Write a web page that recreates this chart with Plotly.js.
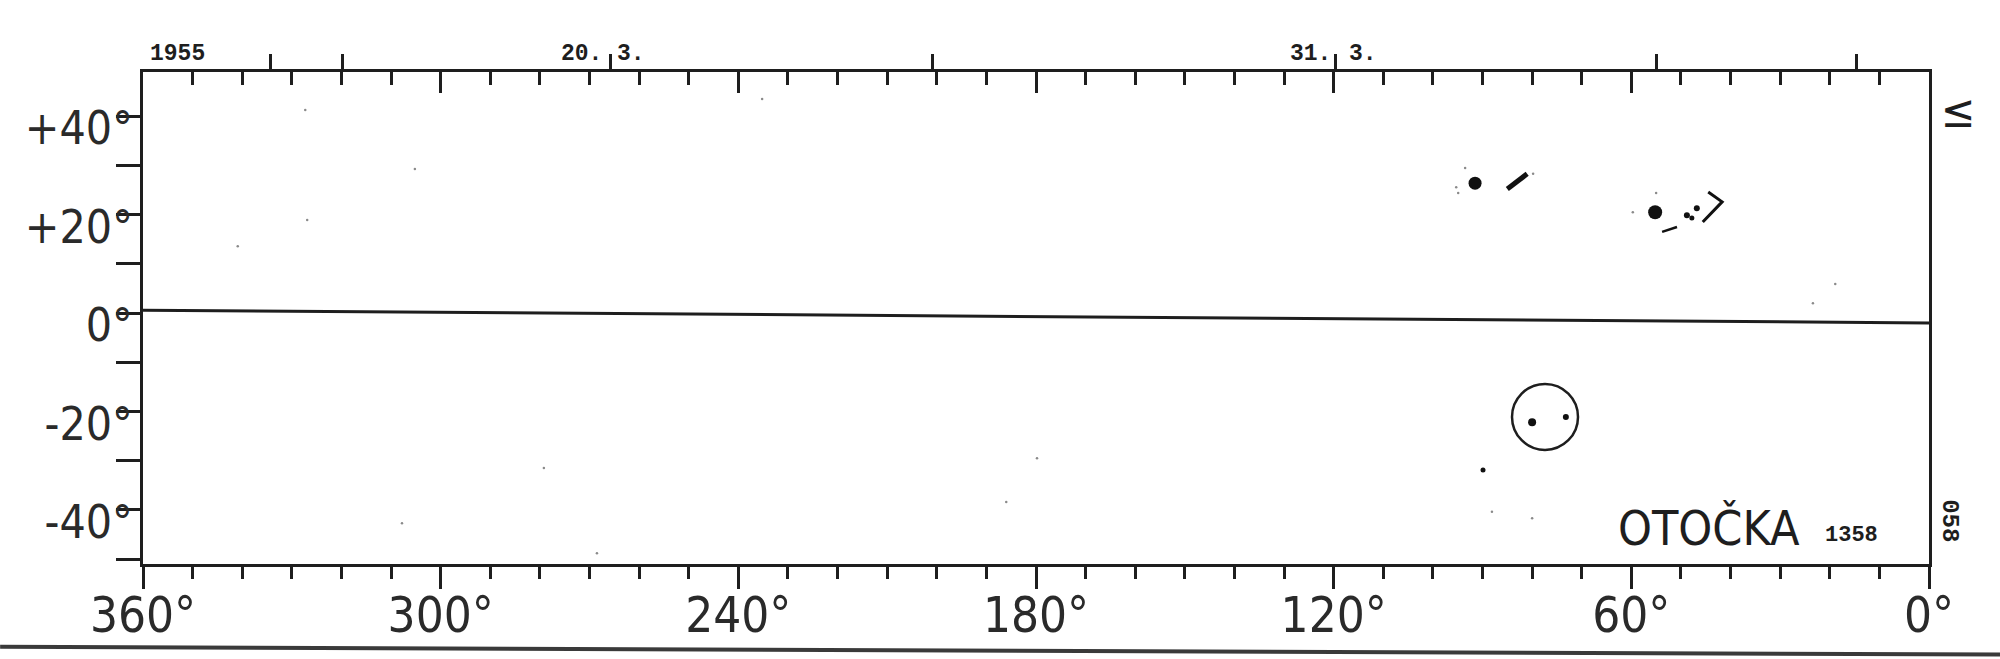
<!DOCTYPE html>
<html>
<head>
<meta charset="utf-8">
<script src="https://cdn.plot.ly/plotly-3.0.1.min.js"></script>
<style>html,body{margin:0;padding:0;background:#fff;}#chart{width:2000px;height:659px;}</style>
</head>
<body>
<div id="chart"></div>
<script>
// ---- data (Carrington longitude, heliographic latitude) ----
const xTickVals = [360, 300, 240, 180, 120, 60, 0];
const xTickText = ['360°', '300°', '240°', '180°', '120°', '60°', '0°'];
const yTickVals = [40, 20, 0, -20, -40];
const yTickText = ['+40°', '+20°', '0°', '-20°', '-40°'];

// date marks on the upper edge
const dateTickLon = [334.4, 319.7, 265.7, 200.8, 119.7, 55.0, 14.7];
const dateLabels = ['1955', '20.', '3.', '31.', '3.'];
const dateLabelLon = [353.0, 271.7, 261.6, 124.6, 114.0];

// drawn equator (slightly skewed on the scan)
const equatorLon = [360, 0];
const equatorLat = [0.6, -2.0];

// umbrae (filled spots)
const spotLon = [91.5, 55.2, 48.8, 46.8, 47.8, 80.0, 73.2, 89.9];
const spotLat = [26.4, 20.5, 19.9, 21.3, 19.3, -22.2, -21.1, -31.9];
const spotSize = [13, 14, 6, 6, 5, 8, 6, 5];

// elongated marks
const streak1Lon = [85.0, 83.3, 81.0];
const streak1Lat = [25.2, 26.6, 28.3];
const streak2Lon = [53.8, 50.8];
const streak2Lat = [16.5, 17.5];
const bracketLon = [44.5, 41.7, 45.6];
const bracketLat = [24.6, 22.6, 18.5];

// encircled region
const ringLon = [77.4];
const ringLat = [-21.1];

// faint specks
const speckLon = [93.5, 95.3, 94.9, 79.8, 59.7, 55.0, 327.3, 305.2, 326.9, 340.9, 307.8, 279.2, 268.5, 235.2, 179.8, 186.0, 18.9, 23.4, 88.1, 80.0];
const speckLat = [29.5, 25.6, 24.4, 28.3, 20.5, 24.4, 41.3, 29.3, 18.9, 13.6, -42.7, -31.5, -48.8, 43.5, -29.5, -38.4, 5.9, 2.0, -40.4, -41.7];

const ink = '#1e1e1e';
const labelFont = 'Liberation Sans Narrow, DejaVu Sans Condensed, Arial Narrow, sans-serif';
const typeFont = 'Liberation Mono, DejaVu Sans Mono, monospace';

const traces = [
  {x: equatorLon, y: equatorLat, mode: 'lines', line: {color: ink, width: 3}, hoverinfo: 'skip'},
  {x: speckLon, y: speckLat, mode: 'markers', marker: {color: '#8a8a8a', size: 2.5, opacity: 1}, hoverinfo: 'skip'},
  {x: streak1Lon, y: streak1Lat, mode: 'lines', line: {color: '#111', width: 5}, hoverinfo: 'skip'},
  {x: streak2Lon, y: streak2Lat, mode: 'lines', line: {color: '#111', width: 2.5}, hoverinfo: 'skip'},
  {x: bracketLon, y: bracketLat, mode: 'lines', line: {color: '#111', width: 3}, hoverinfo: 'skip'},
  {x: spotLon, y: spotLat, mode: 'markers', marker: {color: '#111', size: spotSize, opacity: 1, line: {width: 0}}, hoverinfo: 'skip'},
  {x: ringLon, y: ringLat, mode: 'markers', marker: {symbol: 'circle-open', size: 66, color: ink, opacity: 1, line: {color: ink, width: 2.5}}, hoverinfo: 'skip'},
  // carrier traces for the overlaying top axes
  {x: [360, 0], y: [0, 0], xaxis: 'x2', mode: 'markers', marker: {opacity: 0}, hoverinfo: 'skip'},
  {x: [360, 0], y: [0, 0], xaxis: 'x3', mode: 'markers', marker: {opacity: 0}, hoverinfo: 'skip'}
];

const annotations = dateLabels.map((t, i) => ({
  text: '<b>' + t + '</b>', x: dateLabelLon[i], xref: 'x', y: 1.036, yref: 'paper',
  showarrow: false, xanchor: 'center', yanchor: 'middle',
  font: {family: typeFont, size: 23, color: ink}
}));
annotations.push(
  {text: 'OTOČKA', x: 44.3, y: -43.7, xref: 'x', yref: 'y', showarrow: false,
   xanchor: 'center', yanchor: 'middle', font: {family: labelFont, size: 48, color: ink}},
  {text: '<b>1358</b>', x: 15.7, y: -45.3, xref: 'x', yref: 'y', showarrow: false,
   xanchor: 'center', yanchor: 'middle', font: {family: typeFont, size: 22, color: ink}},
  {text: '<b>058</b>', x: 1.0118, y: 0.089, xref: 'paper', yref: 'paper', showarrow: false,
   textangle: 90, xanchor: 'center', yanchor: 'middle', font: {family: typeFont, size: 24, color: ink}},
  {text: '≤', x: 1.0165, y: 0.92, xref: 'paper', yref: 'paper', showarrow: false,
   textangle: 0, xanchor: 'center', yanchor: 'middle', font: {family: labelFont, size: 46, color: ink}}
);

const layout = {
  width: 2000, height: 659,
  margin: {l: 143, r: 71, t: 72, b: 95, pad: 0},
  paper_bgcolor: '#ffffff', plot_bgcolor: '#ffffff',
  showlegend: false,
  xaxis: {
    range: [360, 0], showgrid: false, zeroline: false,
    showline: true, linecolor: ink, linewidth: 3, mirror: false,
    tickmode: 'array', tickvals: xTickVals, ticktext: xTickText,
    ticks: 'outside', ticklen: 22, tickwidth: 3, tickcolor: ink,
    minor: {dtick: 10, tick0: 0, ticks: 'outside', ticklen: 12, tickwidth: 3, tickcolor: ink, showgrid: false},
    tickfont: {family: labelFont, size: 49, color: '#2a2a2a'},
    ticklabelstandoff: -16,
    fixedrange: true
  },
  xaxis2: {
    overlaying: 'x', side: 'top', range: [360, 0], showgrid: false, zeroline: false,
    showline: true, linecolor: ink, linewidth: 3,
    tickmode: 'array', tickvals: xTickVals, showticklabels: false,
    ticks: 'inside', ticklen: 21, tickwidth: 3, tickcolor: ink,
    minor: {dtick: 10, tick0: 0, ticks: 'inside', ticklen: 13, tickwidth: 3, tickcolor: ink, showgrid: false},
    fixedrange: true
  },
  xaxis3: {
    overlaying: 'x', side: 'top', range: [360, 0], showgrid: false, zeroline: false,
    showline: false, tickmode: 'array', tickvals: dateTickLon, showticklabels: false,
    ticks: 'outside', ticklen: 17, tickwidth: 3, tickcolor: ink, fixedrange: true
  },
  yaxis: {
    range: [-51, 49], showgrid: false, zeroline: false,
    showline: true, linecolor: ink, linewidth: 3, mirror: true,
    tickmode: 'array', tickvals: yTickVals, ticktext: yTickText,
    ticks: 'outside', ticklen: 24, tickwidth: 3, tickcolor: ink,
    minor: {dtick: 10, tick0: 0, ticks: 'outside', ticklen: 24, tickwidth: 3, tickcolor: ink, showgrid: false},
    tickfont: {family: labelFont, size: 46, color: '#2a2a2a'},
    ticklabelshift: 12, ticklabelstandoff: -26,
    fixedrange: true
  },
  shapes: [
    {type: 'line', xref: 'paper', yref: 'paper', x0: -0.08, x1: 1.04, y0: -0.168, y1: -0.184,
     line: {color: '#3a3a3a', width: 4}}
  ],
  annotations: annotations
};

Plotly.newPlot('chart', traces, layout, {staticPlot: true, displayModeBar: false});
</script>
</body>
</html>
